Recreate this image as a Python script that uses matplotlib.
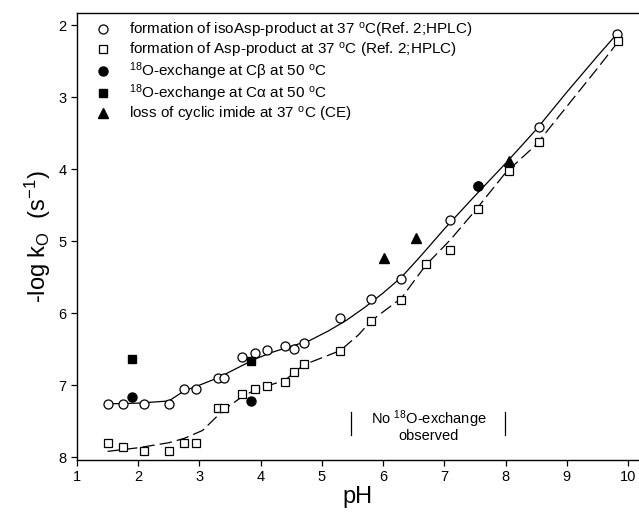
import numpy as np
import matplotlib
matplotlib.use("Agg")
import matplotlib.pyplot as plt

plt.rcParams['font.family'] = ['Liberation Sans', 'DejaVu Sans']
plt.rcParams['mathtext.default'] = 'regular'

# isoAsp-product (open circles)
iso_ph = [1.5, 1.75, 2.1, 2.5, 2.75, 2.95, 3.3, 3.4, 3.7, 3.9, 4.1, 4.4, 4.55, 4.7,
          5.3, 5.8, 6.3, 7.1, 7.55, 8.55, 9.82]
iso_y = [7.26, 7.26, 7.26, 7.26, 7.06, 7.06, 6.9, 6.9, 6.61, 6.55, 6.51, 6.45, 6.5, 6.41,
         6.07, 5.81, 5.53, 4.71, 4.24, 3.41, 2.12]

# Asp-product (open squares)
asp_ph = [1.5, 1.75, 2.1, 2.5, 2.75, 2.95, 3.3, 3.4, 3.7, 3.9, 4.1, 4.4, 4.55, 4.7,
          5.3, 5.8, 6.3, 6.7, 7.1, 7.55, 8.05, 8.55, 9.83]
asp_y = [7.81, 7.86, 7.92, 7.91, 7.81, 7.81, 7.32, 7.32, 7.12, 7.06, 7.01, 6.96, 6.82, 6.71,
         6.52, 6.11, 5.82, 5.32, 5.12, 4.55, 4.02, 3.62, 2.22]

# 18O exchange at C-beta (filled circles)
cb_ph = [1.9, 3.85, 7.55]
cb_y = [7.16, 7.22, 4.24]

# 18O exchange at C-alpha (filled squares)
ca_ph = [1.9, 3.85]
ca_y = [6.63, 6.67]

# loss of cyclic imide (triangles)
ce_ph = [6.02, 6.53, 8.05]
ce_y = [5.24, 4.95, 3.89]

# fitted curves
fit_iso_ph = [1.5, 2.0, 2.5, 2.75, 3.0, 3.3, 3.6, 3.9, 4.2, 4.5, 4.8, 5.1, 5.4, 5.7,
              6.0, 6.3, 6.6, 7.0, 7.5, 8.0, 8.5, 9.0, 9.5, 9.82]
fit_iso_y = [7.26, 7.25, 7.22, 7.08, 7.0, 6.9, 6.77, 6.64, 6.54, 6.46, 6.38, 6.25, 6.1, 5.92,
             5.72, 5.5, 5.22, 4.83, 4.37, 3.92, 3.45, 2.93, 2.43, 2.12]
fit_asp_ph = [1.5, 2.0, 2.5, 2.75, 3.05, 3.4, 3.7, 3.9, 4.4, 4.7, 5.3, 5.6, 5.8, 6.3,
              6.7, 7.1, 7.5, 8.0, 8.5, 9.0, 9.5, 9.83]
fit_asp_y = [7.92, 7.87, 7.8, 7.74, 7.63, 7.34, 7.16, 7.07, 6.93, 6.72, 6.52, 6.3, 6.11, 5.79,
             5.33, 4.98, 4.58, 4.05, 3.66, 3.13, 2.6, 2.24]

labels = ['formation of isoAsp-product at 37 $^{o}$C(Ref. 2;HPLC)',
          'formation of Asp-product at 37 $^{o}$C (Ref. 2;HPLC)',
          '$^{18}$O-exchange at C\u03b2 at 50 $^{o}$C',
          '$^{18}$O-exchange at C\u03b1 at 50 $^{o}$C',
          'loss of cyclic imide at 37 $^{o}$C (CE)']

fig = plt.figure(figsize=(6.39, 5.19), dpi=100)
ax = fig.add_axes([77/639, 59/519, 1 - 77/639, 447/519])

ax.plot(fit_iso_ph, fit_iso_y, '-', color='black', lw=0.9, zorder=1)
ax.plot(fit_asp_ph, fit_asp_y, color='black', lw=0.9, ls=(0, (10, 4)), zorder=1)

ms = 6.5
ax.plot(iso_ph, iso_y, 'o', mfc='white', mec='black', mew=0.9, ms=ms, zorder=3,
        label=labels[0])
ax.plot(asp_ph, asp_y, 's', mfc='white', mec='black', mew=0.9, ms=ms - 0.5, zorder=3,
        label=labels[1])
ax.plot(cb_ph, cb_y, 'o', color='black', ms=ms, zorder=4, label=labels[2])
ax.plot(ca_ph, ca_y, 's', color='black', ms=ms - 0.5, zorder=4, label=labels[3])
ax.plot(ce_ph, ce_y, '^', color='black', ms=ms, zorder=4, label=labels[4])

# no exchange region
ax.plot([5.47, 5.47], [7.37, 7.69], color='black', lw=0.9)
ax.plot([7.99, 7.99], [7.37, 7.69], color='black', lw=0.9)
ax.text(6.74, 7.56, 'No $^{18}$O-exchange\nobserved', ha='center', va='center',
        fontsize=10.5, linespacing=0.95)

ax.set_xlim(1, 10.18)
ax.set_ylim(8.04, 1.83)
ax.set_xticks(range(1, 11))
ax.set_yticks(range(2, 9))
ax.tick_params(labelsize=10.5, length=4, width=0.9)
ax.spines['right'].set_visible(False)
for s in ['left', 'bottom', 'top']:
    ax.spines[s].set_linewidth(1.0)

ax.set_xlabel('pH', fontsize=17, labelpad=1)
ax.set_ylabel('-log k$_{O}$  (s$^{-1}$)', fontsize=17, labelpad=4)

ax.legend(loc='upper left', bbox_to_anchor=(0.012, 1.008), frameon=False, fontsize=11,
          handlelength=1.0, handletextpad=1.2, labelspacing=0.05, borderpad=0.25)

fig.savefig('out.png', dpi=100)
